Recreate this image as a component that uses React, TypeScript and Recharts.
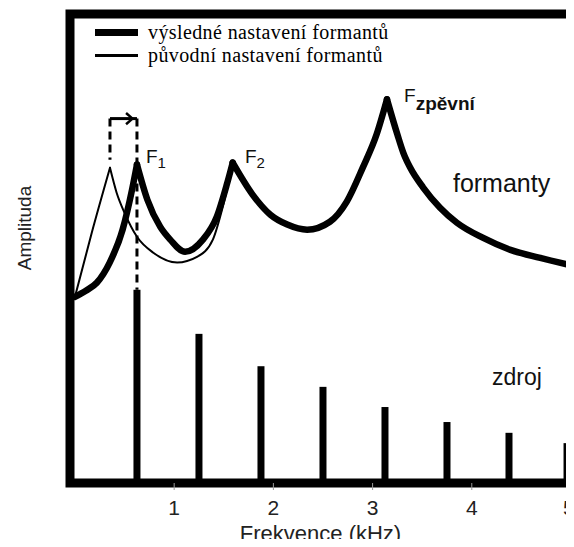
import {
  ComposedChart,
  Line,
  Bar,
  XAxis,
  YAxis,
  Legend,
  ReferenceArea,
  ReferenceLine,
  ReferenceDot,
} from "recharts"

// harmonics of the source (kHz) and their levels
const harmonicFreq = [0.625, 1.25, 1.875, 2.5, 3.125, 3.75, 4.375, 4.96]
const sourceLevel = [41.2, 31.8, 24.9, 20.5, 16.2, 13.0, 10.7, 8.5]

// výsledné nastavení formantů (thick curve)
const resultFreq = [
  0, 0.11, 0.22, 0.35, 0.48, 0.575, 0.625, 0.73, 0.86, 0.96, 1.11, 1.29, 1.43, 1.53, 1.59,
  1.79, 1.97, 2.14, 2.34, 2.57, 2.74, 2.9, 3.04, 3.145, 3.25, 3.31, 3.38, 3.51, 3.68, 3.85,
  4.11, 4.39, 4.69, 5.0,
]
const resultAmp = [
  39.7, 41.0, 42.7, 47.0, 54.0, 62.5, 67.9, 60.4, 54.6, 51.9, 49.3, 51.9, 56.8, 63.6, 68.3,
  61.5, 57.2, 55.1, 54.0, 55.7, 60.0, 67.2, 74.3, 81.8, 74.3, 70.4, 67.2, 63.0, 58.7, 55.5,
  52.3, 49.7, 48.0, 46.4,
]
// indices of the formant peaks (F1, F2, Fzpěvní) in resultFreq
const resultPeaks = [6, 14, 23]

// původní nastavení formantů (thin curve)
const originalFreq = [0, 0.17, 0.353, 0.42, 0.5, 0.625, 0.79, 1.03, 1.23, 1.39, 1.49, 1.59]
const originalAmp = [39.7, 53.4, 67.2, 61.9, 57.6, 52.5, 49.1, 47.0, 48.2, 51.9, 58.9, 68.3]
const originalPeaks = [2]

const xTicks = [1, 2, 3, 4, 5]
const legendLabels = ["výsledné nastavení formantů", "původní nastavení formantů"]

const X_DOMAIN: [number, number] = [-0.05, 5]
const Y_DOMAIN: [number, number] = [0, 100]

const sourceData = harmonicFreq.map((f, i) => ({ f, zdroj: sourceLevel[i] }))

// split a curve at its peaks so every peak stays a sharp cusp
const toSegments = (freq: number[], amp: number[], peaks: number[]) => {
  const cuts = [0, ...peaks, freq.length - 1]
  const segs: { f: number; amp: number }[][] = []
  for (let s = 0; s < cuts.length - 1; s++) {
    const seg = []
    for (let i = cuts[s]; i <= cuts[s + 1]; i++) seg.push({ f: freq[i], amp: amp[i] })
    segs.push(seg)
  }
  return segs
}
const resultSegments = toSegments(resultFreq, resultAmp, resultPeaks)
const originalSegments = toSegments(originalFreq, originalAmp, originalPeaks)

const SANS = "Liberation Sans, Arial, sans-serif"

const textLabel = (node: React.ReactNode) => (props: any) => {
  const { x, y } = props.viewBox
  return (
    <text x={x} y={y} fontFamily={SANS} fill="#111">
      {node}
    </text>
  )
}

const LegendBox = () => (
  <div
    style={{
      fontFamily: "Liberation Serif, Times New Roman, serif",
      fontSize: 20,
      letterSpacing: 0.4,
      color: "#000",
    }}
  >
    {legendLabels.map((label, i) => (
      <div key={label} style={{ display: "flex", alignItems: "center", height: 23, whiteSpace: "nowrap" }}>
        <span style={{ display: "inline-block", width: 43, height: i === 0 ? 7 : 3, background: "#000", marginRight: 10 }} />
        <span style={{ lineHeight: "23px" }}>{label}</span>
      </div>
    ))}
  </div>
)

const HarmonicBar = (p: any) => (
  <rect x={p.x + p.width / 2 - 3.5} y={p.y} width={7} height={p.height} fill="#000" />
)

export default function App() {
  return (
    <div style={{ margin: -8 }}>
      <ComposedChart
        width={574}
        height={547}
        data={sourceData}
        margin={{ top: 14, right: 3, bottom: 0, left: 0 }}
      >
        <XAxis
          dataKey="f"
          type="number"
          domain={X_DOMAIN}
          ticks={xTicks}
          allowDataOverflow
          axisLine={false}
          tickSize={7}
          tickMargin={10}
          tickLine={{ stroke: "#999", strokeWidth: 1 }}
          tick={{ fontSize: 21, fill: "#222", fontFamily: SANS }}
          height={64}
          label={{
            content: (p: any) => (
              <text
                x={p.viewBox.x + p.viewBox.width / 2}
                y={541}
                textAnchor="middle"
                fontSize={22}
                fontFamily={SANS}
                fill="#222"
              >
                Frekvence (kHz)
              </text>
            ),
          }}
        />
        <YAxis
          type="number"
          domain={Y_DOMAIN}
          width={70}
          tick={false}
          axisLine={false}
          tickLine={false}
          label={{
            content: () => (
              <text
                transform="translate(24,228) rotate(-90)"
                textAnchor="middle"
                dominantBaseline="central"
                fontSize={19}
                fontFamily={SANS}
                fill="#222"
              >
                Amplituda
              </text>
            ),
          }}
        />
        <Legend
          layout="vertical"
          align="center"
          verticalAlign="middle"
          wrapperStyle={{ top: 21, left: 95, width: 330 }}
          content={() => <LegendBox />}
        />
        <Bar dataKey="zdroj" fill="#000" shape={HarmonicBar} isAnimationActive={false} />
        {originalSegments.map((seg, i) => (
          <Line
            key={`orig-${i}`}
            data={seg}
            dataKey="amp"
            type="monotoneX"
            stroke="#000"
            strokeWidth={2}
            strokeLinecap="round"
            dot={false}
            legendType="none"
            isAnimationActive={false}
          />
        ))}
        {resultSegments.map((seg, i) => (
          <Line
            key={`res-${i}`}
            data={seg}
            dataKey="amp"
            type="monotoneX"
            stroke="#000"
            strokeWidth={6.5}
            strokeLinecap="round"
            dot={false}
            legendType="none"
            isAnimationActive={false}
          />
        ))}

        {/* posun F1 */}
        <ReferenceLine
          segment={[{ x: originalFreq[2], y: 77.7 }, { x: originalFreq[2], y: 68.9 }]}
          stroke="#000"
          strokeWidth={3}
          strokeDasharray="8 5"
        />
        <ReferenceLine
          segment={[{ x: harmonicFreq[0], y: 77.7 }, { x: harmonicFreq[0], y: sourceLevel[0] }]}
          stroke="#000"
          strokeWidth={3}
          strokeDasharray="8 5"
        />
        <ReferenceLine
          segment={[{ x: originalFreq[2], y: 77.7 }, { x: harmonicFreq[0], y: 77.7 }]}
          stroke="#000"
          strokeWidth={3}
        />
        <ReferenceLine
          segment={[{ x: 0.515, y: 78.9 }, { x: 0.58, y: 77.7 }]}
          stroke="#000"
          strokeWidth={2.5}
        />
        <ReferenceLine
          segment={[{ x: 0.515, y: 76.5 }, { x: 0.58, y: 77.7 }]}
          stroke="#000"
          strokeWidth={2.5}
        />

        <ReferenceDot
          x={0.716}
          y={68.3}
          r={0}
          fill="none"
          stroke="none"
          label={{
            content: textLabel(
              <>
                <tspan fontSize={19}>F</tspan>
                <tspan fontSize={15} dy={5}>1</tspan>
              </>
            ),
          }}
        />
        <ReferenceDot
          x={1.714}
          y={68.3}
          r={0}
          fill="none"
          stroke="none"
          label={{
            content: textLabel(
              <>
                <tspan fontSize={19}>F</tspan>
                <tspan fontSize={15} dy={5}>2</tspan>
              </>
            ),
          }}
        />
        <ReferenceDot
          x={3.317}
          y={81.3}
          r={0}
          fill="none"
          stroke="none"
          label={{
            content: textLabel(
              <>
                <tspan fontSize={19}>F</tspan>
                <tspan fontSize={19} fontWeight="bold" dy={8}>zpěvní</tspan>
              </>
            ),
          }}
        />
        <ReferenceDot
          x={3.81}
          y={62.1}
          r={0}
          fill="none"
          stroke="none"
          label={{ content: textLabel(<tspan fontSize={25}>formanty</tspan>) }}
        />
        <ReferenceDot
          x={4.204}
          y={20.9}
          r={0}
          fill="none"
          stroke="none"
          label={{ content: textLabel(<tspan fontSize={23}>zdroj</tspan>) }}
        />

        <ReferenceArea
          x1={X_DOMAIN[0]}
          x2={X_DOMAIN[1]}
          y1={Y_DOMAIN[0]}
          y2={Y_DOMAIN[1]}
          fill="none"
          fillOpacity={0}
          stroke="#000"
          strokeWidth={9}
          ifOverflow="visible"
        />
      </ComposedChart>
    </div>
  )
}
